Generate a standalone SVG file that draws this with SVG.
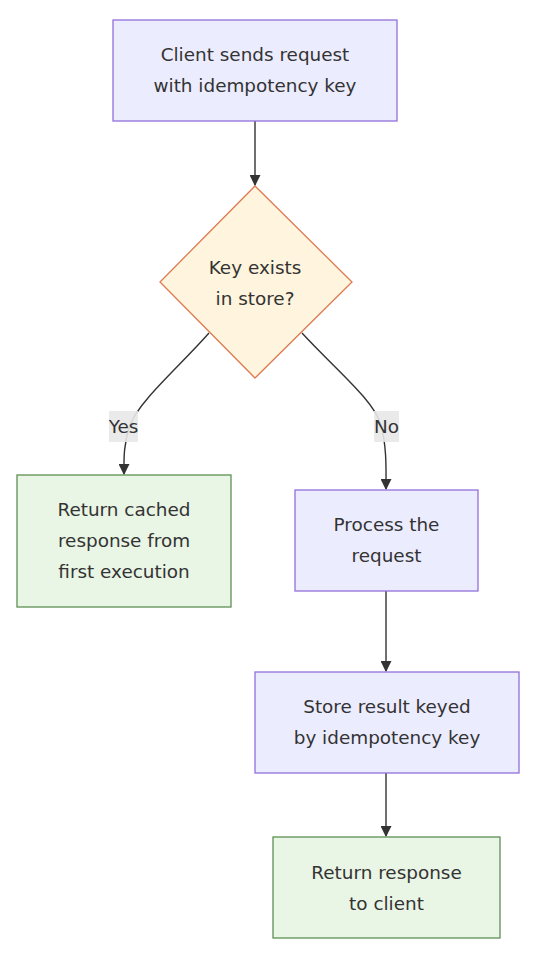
<svg xmlns="http://www.w3.org/2000/svg" width="538" height="970" viewBox="0 0 538 970">
<defs>
<style>
.lbl{font-family:"DejaVu Sans","Liberation Sans",sans-serif;font-size:18.4px;fill:#333;text-anchor:middle;}
.proc{fill:#ECECFF;stroke:#9370DB;stroke-width:1.3;}
.ok{fill:#E9F5E5;stroke:#5E8F55;stroke-width:1.3;}
.dec{fill:#FFF4DD;stroke:#DD7A50;stroke-width:1.3;}
.edge{fill:none;stroke:#333;stroke-width:1.4;}
.elbg{fill:#E8E8E8;opacity:0.9;}
</style>
<marker id="arr" viewBox="0 0 10 10" refX="9" refY="5" markerWidth="11" markerHeight="11" markerUnits="userSpaceOnUse" orient="auto">
<path d="M0,0 L10,5 L0,10 z" fill="#333"/>
</marker>
</defs>
<g id="connectors">
<path class="edge" d="M255,121 L255,185" marker-end="url(#arr)"/>
<path class="edge" d="M209,333 C178,368 140,400 130,425 C123,445 124,462 124,474" marker-end="url(#arr)"/>
<path class="edge" d="M302,333 C334,368 374,400 381,425 C387,448 386,470 386,489" marker-end="url(#arr)"/>
<path class="edge" d="M386,591 L386,671" marker-end="url(#arr)"/>
<path class="edge" d="M386,773 L386,836" marker-end="url(#arr)"/>
<rect class="elbg" x="109" y="411" width="29" height="31"/>
<text class="lbl" x="123.5" y="433">Yes</text>
<rect class="elbg" x="374" y="411" width="25" height="31"/>
<text class="lbl" x="386.5" y="433">No</text>
</g>
<g id="client">
<rect class="proc" x="113" y="20" width="284" height="101"/>
<text class="lbl" x="255" y="61">Client sends request</text>
<text class="lbl" x="255" y="92">with idempotency key</text>
</g>
<g id="check">
<polygon class="dec" points="255,186 352,282 255,378 160,282"/>
<text class="lbl" x="255" y="274">Key exists</text>
<text class="lbl" x="255" y="305">in store?</text>
</g>
<g id="cached">
<rect class="ok" x="17" y="475" width="214" height="132"/>
<text class="lbl" x="124" y="516">Return cached</text>
<text class="lbl" x="124" y="547">response from</text>
<text class="lbl" x="124" y="578">first execution</text>
</g>
<g id="process">
<rect class="proc" x="295" y="490" width="183" height="101"/>
<text class="lbl" x="386.5" y="531">Process the</text>
<text class="lbl" x="386.5" y="562">request</text>
</g>
<g id="store">
<rect class="proc" x="255" y="672" width="264" height="101"/>
<text class="lbl" x="387" y="713">Store result keyed</text>
<text class="lbl" x="387" y="744">by idempotency key</text>
</g>
<g id="respond">
<rect class="ok" x="273" y="837" width="227" height="101"/>
<text class="lbl" x="386.5" y="879">Return response</text>
<text class="lbl" x="386.5" y="910">to client</text>
</g>
</svg>
